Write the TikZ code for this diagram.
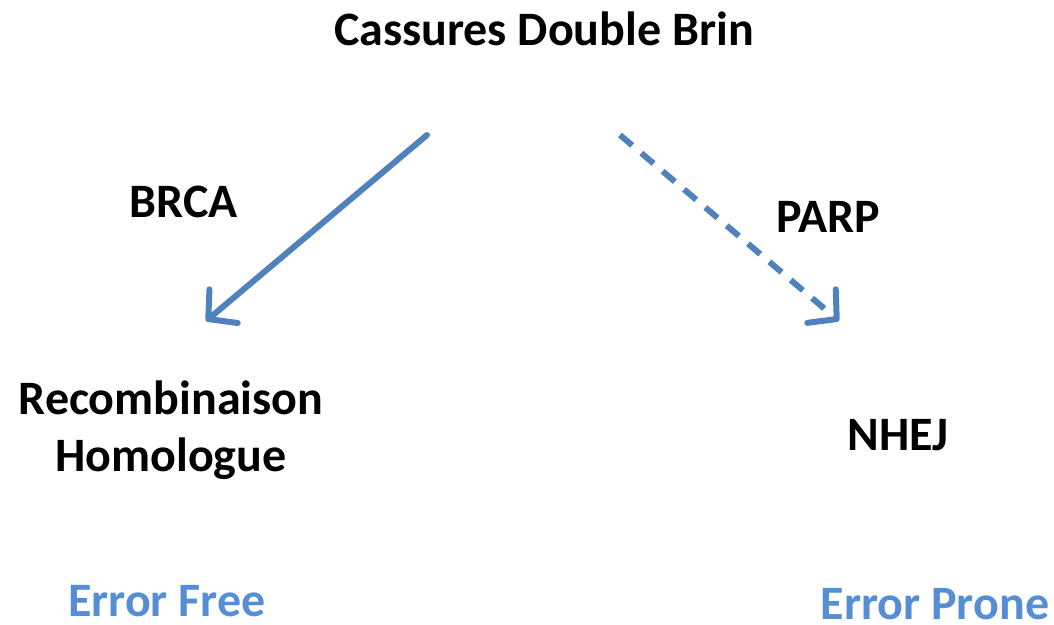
\documentclass[tikz,border=0pt]{standalone}
\usepackage{fontspec}
\setmainfont{Carlito}
\usetikzlibrary{arrows.meta}
\definecolor{arrowblue}{RGB}{79,129,189}
\definecolor{errblue}{RGB}{85,142,213}
\tikzset{
  lbl/.style={font=\bfseries\fontsize{48}{57}\selectfont, text=black, inner sep=0pt, align=center},
  errlbl/.style={font=\bfseries\fontsize{48}{57}\selectfont, text=errblue, inner sep=0pt, anchor=base},
  conn/.style={draw=arrowblue, line width=6pt, line cap=round,
    -{Straight Barb[length=20pt, width=44pt, line width=6pt, round]}}
}
\begin{document}
\begin{tikzpicture}[x=1pt,y=-1pt]
\useasboundingbox (0,0) rectangle (1054,624);
\node[lbl, anchor=base] (top) at (544,45) {Cassures Double Brin};
\node[lbl, anchor=base] (brca) at (184,217) {BRCA};
\node[lbl, anchor=base] (parp) at (828,232) {PARP};
\node[lbl] (rh) at (171,430) {Recombinaison\\Homologue};
\node[lbl, anchor=base] (nhej) at (898,450) {NHEJ};
\node[errlbl] (ef) at (167,616) {Error Free};
\node[errlbl] (ep) at (935,619) {Error Prone};
\coordinate (s1) at (427,135);
\coordinate (e1) at (206,321);
\coordinate (s2) at (620,135);
\coordinate (e2) at (839,321);
\draw[conn] (s1) -- (e1);
\draw[conn, dash pattern=on 16pt off 12pt, line cap=butt] (s2) -- (e2);
\end{tikzpicture}
\end{document}
